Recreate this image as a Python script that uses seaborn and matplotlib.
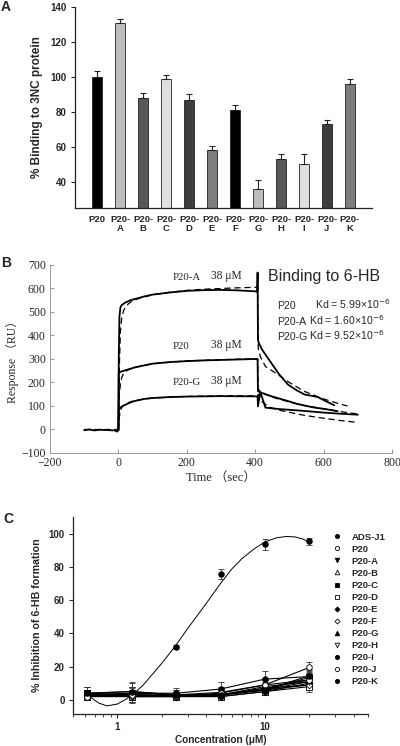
import matplotlib
matplotlib.use('Agg')
import matplotlib.pyplot as plt
import seaborn as sns
import pandas as pd
import numpy as np

sns.set_style('ticks')
plt.rcParams['font.family'] = ['Liberation Sans', 'DejaVu Sans']

SANS = ['Liberation Sans', 'DejaVu Sans']
SERIF = ['Liberation Serif', 'Noto Sans CJK SC', 'DejaVu Serif']

# ---------------- panel A data ----------------
peptides = ['P20', 'P20-A', 'P20-B', 'P20-C', 'P20-D', 'P20-E',
            'P20-F', 'P20-G', 'P20-H', 'P20-I', 'P20-J', 'P20-K']
tick_labels_a = ['P20', 'P20-\nA', 'P20-\nB', 'P20-\nC', 'P20-\nD', 'P20-\nE',
                 'P20-\nF', 'P20-\nG', 'P20-\nH', 'P20-\nI', 'P20-\nJ', 'P20-\nK']
binding = [100, 131, 88, 99, 87, 58, 81, 36, 53, 50, 73, 96]
binding_err = [3.2, 2.0, 3.0, 2.0, 3.0, 2.2, 3.0, 5.0, 3.0, 6.0, 2.2, 3.0]
bar_colors = ['#000000', '#bdbdbd', '#585858', '#e0e0e0', '#3e3e3e', '#7d7d7d',
              '#000000', '#bdbdbd', '#585858', '#e0e0e0', '#3e3e3e', '#7d7d7d']

# ---------------- panel B data (sensorgrams) ----------------
t_base = [-100, -85, -70, -55, -40, -25, -10, -4, 0]
r_base = [-3, 0, -4, -1, -2, -3, -4, -9, -2]

t_pa = [1, 3, 6, 10, 20, 35, 50, 75, 100, 150, 200, 250, 300, 350, 400, 406,
        407, 408, 410, 420, 446, 470, 496, 520, 544, 570, 583, 610, 631]
r_pa = [300, 480, 520, 530, 540, 550, 556, 566, 574, 583, 590, 593, 594, 592, 588, 586,
        668, 383, 370, 340, 285, 235, 191, 168, 149, 142, 138, 118, 103]
t_pa_fit = [-100, 0, 3, 6, 10, 15, 20, 30, 40, 60, 80, 100, 150, 200, 250, 300, 350, 400, 407,
            409, 415, 430, 460, 500, 544, 600, 640, 670]
r_pa_fit = [0, 0, 280, 420, 478, 505, 520, 536, 546, 558, 566, 573, 584, 592, 597, 600, 603, 605, 606,
            345, 310, 268, 240, 200, 162, 130, 112, 100]

t_p20 = [1, 5, 20, 50, 100, 150, 200, 250, 300, 350, 400, 407,
         408, 420, 446, 470, 496, 520, 544, 570, 600, 641]
r_p20 = [240, 245, 252, 265, 280, 287, 291, 294, 296, 298, 300, 298,
         163, 155, 142, 132, 121, 110, 102, 94, 88, 78]
t_p20_fit = [0, 3, 6, 10, 15, 20, 30, 50, 100, 200, 300, 400, 407,
             409, 430, 460, 500, 544, 600, 650, 700]
r_p20_fit = [0, 150, 195, 222, 238, 246, 255, 265, 280, 292, 297, 301, 302,
             170, 150, 133, 117, 102, 88, 76, 66]

t_pg = [1, 5, 10, 20, 35, 50, 75, 100, 150, 200, 300, 400, 407,
        408, 415, 430, 470, 544, 600, 650, 700]
r_pg = [85, 92, 98, 105, 115, 122, 130, 134, 138, 140, 142, 141, 140,
        98, 160, 93, 87, 79, 72, 67, 63]
t_pg_fit = [0, 3, 6, 10, 20, 35, 50, 100, 200, 300, 400, 407,
            409, 420, 440, 470, 544, 600, 650, 700]
r_pg_fit = [0, 55, 80, 95, 108, 118, 124, 134, 141, 143, 144, 144,
            150, 118, 96, 82, 60, 48, 38, 30]

# ---------------- panel C data ----------------
conc = [0.625, 1.25, 2.5, 5, 10, 20]
series_names = ['ADS-J1', 'P20', 'P20-A', 'P20-B', 'P20-C', 'P20-D', 'P20-E',
                'P20-F', 'P20-G', 'P20-H', 'P20-I', 'P20-J', 'P20-K']
inhibition = {
    'ADS-J1': [3.0, 4.0, 32.0, 75.5, 93.5, 95.3],
    'P20':    [3.0, 4.0, 3.0, 4.5, 9.0, 19.5],
    'P20-A':  [2.0, 3.0, 2.0, 3.0, 6.0, 11.0],
    'P20-B':  [3.0, 2.0, 2.0, 3.0, 7.0, 9.0],
    'P20-C':  [4.0, 3.0, 3.0, 3.0, 6.0, 13.5],
    'P20-D':  [2.0, 2.0, 2.0, 2.0, 5.0, 8.0],
    'P20-E':  [3.0, 3.0, 2.0, 2.0, 5.0, 10.0],
    'P20-F':  [2.0, 2.0, 2.0, 3.0, 6.0, 9.0],
    'P20-G':  [4.0, 5.0, 3.0, 3.0, 7.0, 12.0],
    'P20-H':  [3.0, 2.0, 2.0, 3.0, 8.0, 11.0],
    'P20-I':  [3.0, 4.0, 4.0, 6.5, 12.5, 14.0],
    'P20-J':  [2.0, 3.0, 2.5, 4.0, 9.0, 12.0],
    'P20-K':  [4.0, 5.0, 3.0, 3.0, 6.0, 14.5],
}
inhibition_err = {
    'ADS-J1': [2.0, 3.0, 1.2, 3.0, 3.2, 2.0],
    'P20':    [3.0, 4.0, 3.0, 3.0, 3.0, 3.0],
    'P20-A':  [2.0, 3.0, 2.0, 2.0, 2.0, 3.0],
    'P20-B':  [3.0, 3.0, 2.0, 2.0, 2.0, 3.0],
    'P20-C':  [4.0, 5.0, 3.0, 2.0, 2.0, 4.0],
    'P20-D':  [2.0, 2.0, 2.0, 2.0, 2.0, 3.0],
    'P20-E':  [3.0, 3.0, 2.0, 2.0, 2.0, 3.0],
    'P20-F':  [2.0, 2.0, 2.0, 2.0, 2.0, 3.0],
    'P20-G':  [4.0, 5.0, 3.0, 3.0, 3.0, 4.0],
    'P20-H':  [3.0, 3.0, 2.0, 2.0, 3.0, 3.0],
    'P20-I':  [3.0, 4.0, 3.0, 4.5, 5.0, 4.0],
    'P20-J':  [2.0, 3.0, 2.0, 3.0, 3.0, 3.0],
    'P20-K':  [4.0, 6.0, 3.0, 3.0, 3.0, 4.0],
}
markers = {'ADS-J1': ('o', True), 'P20': ('o', False), 'P20-A': ('v', True),
           'P20-B': ('^', False), 'P20-C': ('s', True), 'P20-D': ('s', False),
           'P20-E': ('D', True), 'P20-F': ('D', False), 'P20-G': ('^', True),
           'P20-H': ('v', False), 'P20-I': ('o', True), 'P20-J': ('o', False),
           'P20-K': ('o', True)}
# fitted dose-response curve for ADS-J1
fit_conc = [0.66, 0.75, 0.85, 1.0, 1.15, 1.3, 1.5, 1.75, 2.0, 2.5, 3.0, 3.5, 4.0,
            5.0, 6.0, 7.0, 8.5, 10, 12, 14, 16, 18, 20]
fit_val = [1.5, -2.0, -3.6, -2.5, 0.5, 4.0, 9.0, 16.0, 22.0, 33.0, 43.0, 51.0, 58.0,
           70.0, 79.0, 85.0, 91.0, 95.0, 97.5, 98.3, 98.0, 96.8, 95.0]

W, H = 400, 746
fig = plt.figure(figsize=(4.0, 7.46), dpi=100)


def px_rect(left, top, right, bottom):
    return [left / W, 1 - bottom / H, (right - left) / W, (bottom - top) / H]


# ============================================================
# Panel A
# ============================================================
axA = fig.add_axes(px_rect(75, 7, 372, 208))
dfA = pd.DataFrame({'peptide': peptides, 'binding': binding})
sns.barplot(data=dfA, x='peptide', y='binding', hue='peptide',
            palette=dict(zip(peptides, bar_colors)), legend=False,
            width=0.4, edgecolor='#222222', linewidth=0.6, ax=axA)
axA.errorbar(range(len(peptides)), binding, yerr=[np.zeros(len(binding)), binding_err],
             fmt='none', ecolor='#222222', elinewidth=0.8, capsize=2.5, capthick=0.8)
axA.set_ylim(25, 140)
axA.set_xlim(-0.96, 11.96)
axA.set_yticks([40, 60, 80, 100, 120, 140])
axA.set_yticklabels(['40', '60', '80', '100', '120', '140'], fontsize=7, fontweight='bold')
axA.set_xticks(range(len(peptides)))
axA.set_xticklabels(tick_labels_a, fontsize=6.8, fontweight='bold', linespacing=1.05)
axA.tick_params(axis='x', length=0, pad=5)
axA.tick_params(axis='y', length=3, width=0.8, pad=3)
axA.set_xlabel('')
axA.set_ylabel('% Binding to 3NC protein', fontsize=8.5, fontweight='bold', labelpad=5)
sns.despine(ax=axA)
for s in ['left', 'bottom']:
    axA.spines[s].set_linewidth(0.9)
    axA.spines[s].set_color('#222222')
fig.text(1 / W, 1 - 11 / H, 'A', fontsize=10, fontweight='bold')

# ============================================================
# Panel B
# ============================================================
axB = fig.add_axes(px_rect(50, 265, 392, 453))
solid_kw = dict(color='black', lw=1.3, solid_joinstyle='round')
dash_kw = dict(color='black', lw=0.9, ls=(0, (5, 3)))
sns.lineplot(x=t_base, y=r_base, ax=axB, **solid_kw)
sns.lineplot(x=[0] + t_pa, y=[-2] + r_pa, ax=axB, sort=False, **solid_kw)
sns.lineplot(x=t_pa_fit, y=r_pa_fit, ax=axB, sort=False, **dash_kw)
sns.lineplot(x=[0] + t_p20, y=[-2] + r_p20, ax=axB, sort=False, **solid_kw)
sns.lineplot(x=t_p20_fit, y=r_p20_fit, ax=axB, sort=False, **dash_kw)
sns.lineplot(x=[0] + t_pg, y=[-2] + r_pg, ax=axB, sort=False, **solid_kw)
sns.lineplot(x=t_pg_fit, y=r_pg_fit, ax=axB, sort=False, **dash_kw)
axB.set_xlim(-200, 800)
axB.set_ylim(-100, 700)
axB.set_xticks(range(-200, 801, 200))
axB.set_yticks(range(-100, 701, 100))
axB.set_xticklabels(['\u2212200', '0', '200', '400', '600', '800'], family=SERIF, fontsize=8.5)
axB.set_yticklabels(['\u2212100', '0', '100', '200', '300', '400', '500', '600', '700'],
                    family=SERIF, fontsize=8.5)
axB.tick_params(direction='in', length=3, width=0.6, color='#888888', pad=3)
sns.despine(ax=axB)
for s in ['left', 'bottom']:
    axB.spines[s].set_linewidth(0.7)
    axB.spines[s].set_color('#999999')
axB.set_xlabel('Time\u00a0\uff08sec\uff09', family=SERIF, fontsize=9, labelpad=2)
axB.set_ylabel('Response\u00a0\uff08RU\uff09', family=SERIF, fontsize=8.5, labelpad=2)

for name, yv in [('P20-A', 628), ('P20', 334), ('P20-G', 182)]:
    axB.text(160, yv, name, family=SERIF, fontsize=7.8, va='bottom')
    axB.text(272, yv, '38 \u03bcM', family=SERIF, fontsize=8.3, va='bottom')

fig.text(268 / W, 1 - 281 / H, 'Binding to 6-HB', fontsize=11.5, family=SANS)
kd_rows = [('P20', '5.99', 309), ('P20-A', '1.60', 325), ('P20-G', '9.52', 340)]
for name, kd, py in kd_rows:
    fig.text(277 / W, 1 - py / H, name, fontsize=7.6, family=SANS)
    xk = 315 if name == 'P20' else 309
    fig.text(xk / W, 1 - py / H, 'Kd = %s\u00d710$^{-6}$' % kd, fontsize=7.6, family=SANS)
fig.text(1 / W, 1 - 267 / H, 'B', fontsize=10, fontweight='bold')

# ============================================================
# Panel C
# ============================================================
axC = fig.add_axes(px_rect(73, 517, 368, 714))
axC.set_xscale('log')
sns.lineplot(x=fit_conc, y=fit_val, ax=axC, color='black', lw=0.7)
handles = []
for name in series_names:
    m, filled = markers[name]
    y = inhibition[name]
    e = inhibition_err[name]
    if name != 'ADS-J1':
        axC.plot(conc, y, color='black', lw=0.8, zorder=2)
    axC.errorbar(conc, y, yerr=e, fmt='none', ecolor='#333333', elinewidth=0.6,
                 capsize=2.2, capthick=0.6, zorder=2)
    ms = 4.0 if m in ('o', 's') else 4.4
    if m == 'D':
        ms = 3.4
    h, = axC.plot(conc, y, ls='none', marker=m, ms=ms, mec='black', mew=0.6,
                  mfc='black' if filled else 'white', zorder=3, label=name)
    handles.append(h)
axC.set_xlim(0.5, 50)
axC.set_ylim(-8.5, 110)
axC.set_yticks([0, 20, 40, 60, 80, 100])
axC.set_yticklabels(['0', '20', '40', '60', '80', '100'], fontsize=7, fontweight='bold')
axC.set_xticks([1, 10])
axC.set_xticklabels(['1', '10'], fontsize=7, fontweight='bold')
axC.tick_params(axis='both', which='major', length=3, width=0.8, pad=3)
axC.tick_params(axis='x', which='minor', length=2, width=0.6)
axC.set_xlabel('Concentration (\u03bcM)', fontsize=7.2, fontweight='bold', labelpad=2)
axC.set_ylabel('% Inhibition of 6-HB formation', fontsize=7.7, fontweight='bold', labelpad=5)
sns.despine(ax=axC)
for s in ['left', 'bottom']:
    axC.spines[s].set_linewidth(0.9)
    axC.spines[s].set_color('#222222')
leg = fig.legend(handles=handles, labels=series_names, loc='upper left',
                 bbox_to_anchor=(328 / W, 1 - 528 / H), frameon=False,
                 prop={'size': 6.8, 'weight': 'bold'}, handlelength=1.0,
                 handletextpad=1.0, labelspacing=0.32, borderpad=0, markerscale=0.75)
fig.text(3 / W, 1 - 523 / H, 'C', fontsize=10, fontweight='bold')

fig.savefig('out.png', dpi=100)
